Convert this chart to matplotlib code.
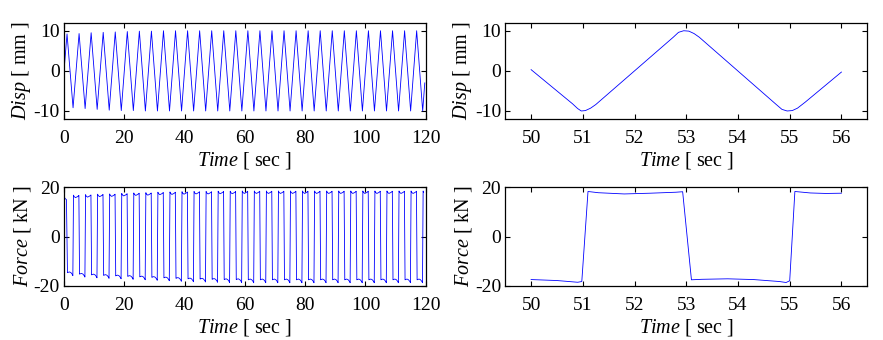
#!/usr/bin/env python3
"""
Ensayo ciclico: desplazamiento y fuerza frente al tiempo.
Izquierda: registro completo (0-120 s). Derecha: detalle 50-56 s.
"""

import matplotlib
matplotlib.use("Agg")
import matplotlib.pyplot as plt

# ---------------- datos ----------------

# Desplazamiento, registro completo: instantes de giro (s)
disp_turn_t = [0, 1, 3, 5, 7, 9, 11, 13, 15, 17, 19, 21, 23, 25, 27, 29, 31,
               33, 35, 37, 39, 41, 43, 45, 47, 49, 51, 53, 55, 57, 59, 61,
               63, 65, 67, 69, 71, 73, 75, 77, 79, 81, 83, 85, 87, 89, 91,
               93, 95, 97, 99, 101, 103, 105, 107, 109, 111, 113, 115, 117,
               119, 119.7]
# picos (t = 1, 5, 9 ...) y valles (t = 3, 7, 11 ...) en mm
disp_peaks = [9.2, 9.3, 9.5, 9.6, 9.7, 9.8, 9.9, 9.9, 10.0, 10.0,
              10.0, 10.0, 10.0, 10.0, 10.0, 10.0, 10.0, 10.0, 10.0, 10.0,
              10.0, 10.0, 10.0, 10.0, 10.0, 10.0, 10.0, 10.0, 10.0, 10.0]
disp_valleys = [-9.2, -9.4, -9.6, -9.8, -9.9, -9.9, -10.0, -10.0, -10.0, -10.0,
                -10.0, -10.0, -10.0, -10.0, -10.0, -10.0, -10.0, -10.0, -10.0, -10.0,
                -10.0, -10.0, -10.0, -10.0, -10.0, -10.0, -10.0, -10.0, -10.0, -10.0]
disp_start, disp_end = 0.0, -3.0

# Fuerza, registro completo: nivel de cada meseta (kN)
force_pos_levels = [15.5, 16.3, 16.5, 16.7, 16.8, 17.0, 17.2, 17.3, 17.5, 17.6,
                    17.7, 17.8, 17.8, 17.9, 17.9, 18.0, 18.0, 18.0, 18.0, 18.0,
                    18.0, 18.0, 18.0, 18.0, 18.0, 18.0, 18.0, 18.0, 18.0, 18.0, 18.0]
force_neg_levels = [15.0, 15.6, 15.9, 16.1, 16.3, 16.5, 16.7, 16.9, 17.1, 17.3,
                    17.5, 17.6, 17.7, 17.8, 17.8, 17.9, 17.9, 17.9, 17.9, 17.9,
                    17.9, 17.9, 17.9, 17.9, 17.9, 17.9, 17.9, 17.9, 17.9, 17.9]
plateau_dt = [0.15, 0.3, 0.8, 1.3, 1.8, 1.93]
plateau_off_pos = [0.5, 0.0, -0.5, -0.2, 0.2, 0.4]
plateau_off_neg = [-0.3, -0.4, -0.6, -0.3, 0.5, 0.9]

# Detalle 50-56 s
zoom_disp_t = [50.0, 50.80, 50.90, 50.97, 51.05, 51.15, 51.25,
               52.75, 52.85, 52.95, 53.05, 53.15, 53.25,
               54.75, 54.85, 54.95, 55.05, 55.15, 55.30, 56.0]
zoom_disp_v = [0.3, -8.2, -9.4, -10.0, -9.9, -9.3, -8.4,
               8.4, 9.6, 10.0, 9.9, 9.3, 8.4,
               -8.5, -9.6, -10.0, -9.9, -9.3, -7.8, -0.3]

zoom_force_t = [50.0, 50.5, 50.9, 50.98, 51.1, 51.3, 51.8, 52.3, 52.8, 52.93,
                53.1, 53.3, 53.8, 54.3, 54.8, 54.93, 55.0, 55.1, 55.4, 55.7, 56.0]
zoom_force_v = [-17.5, -17.9, -18.6, -18.3, 18.3, 17.8, 17.3, 17.6, 18.0, 18.2,
                -17.6, -17.4, -17.2, -17.5, -18.3, -18.7, -18.0, 18.3, 17.7, 17.5, 17.6]


def build_disp():
    v = [disp_start]
    for p, q in zip(disp_peaks, disp_valleys):
        v += [p, q]
    v.append(disp_end)
    return disp_turn_t, v


def build_force():
    # cambios de signo en los giros del desplazamiento
    edges = disp_turn_t
    t, f = [0.0], [0.0]
    ip, ineg = 0, 0
    for i in range(len(edges) - 1):
        ts, te = edges[i], edges[i + 1]
        if i % 2 == 0:
            lev, offs, sgn = force_pos_levels[ip], plateau_off_pos, 1
            ip += 1
        else:
            lev, offs, sgn = force_neg_levels[ineg], plateau_off_neg, -1
            ineg += 1
        for dt, off in zip(plateau_dt, offs):
            if ts + dt < te:
                t.append(ts + dt)
                f.append(sgn * (lev + off))
    return t, f


def style_axes(ax, xlim, xticks, ylim, yticks, ylabel):
    ax.set_xlim(*xlim)
    ax.set_ylim(*ylim)
    ax.set_xticks(xticks)
    ax.set_yticks(yticks)
    ax.tick_params(direction="in", top=True, right=True, length=3.5, width=0.8,
                   labelsize=14)
    ax.tick_params(axis="x", pad=8)
    ax.tick_params(axis="y", pad=3)
    for s in ax.spines.values():
        s.set_linewidth(0.9)
    ax.set_xlabel(r"$\mathit{Time}$ [ sec ]", fontsize=14.5, labelpad=2)
    ax.set_ylabel(ylabel, fontsize=14.5, labelpad=0.5)


def main():
    plt.rcParams["font.family"] = ["Liberation Serif", "DejaVu Serif"]
    plt.rcParams["mathtext.fontset"] = "custom"
    plt.rcParams["mathtext.rm"] = "Liberation Serif"
    plt.rcParams["mathtext.it"] = "Liberation Serif:italic"
    plt.rcParams["axes.unicode_minus"] = False

    fig = plt.figure(figsize=(8.83, 3.40), dpi=100)
    ax1 = fig.add_axes([0.0725, 0.650, 0.4096, 0.2832])
    ax2 = fig.add_axes([0.5722, 0.650, 0.4100, 0.2832])
    ax3 = fig.add_axes([0.0725, 0.1597, 0.4096, 0.2894])
    ax4 = fig.add_axes([0.5722, 0.1597, 0.4100, 0.2894])

    dt, dv = build_disp()
    ft, fv = build_force()

    lw = 0.6
    ax1.plot(dt, dv, color="blue", lw=lw)
    ax2.plot(zoom_disp_t, zoom_disp_v, color="blue", lw=lw)
    ax3.plot(ft, fv, color="blue", lw=lw)
    ax4.plot(zoom_force_t, zoom_force_v, color="blue", lw=lw)

    disp_lab = r"$\mathit{Disp}$ [ mm ]"
    force_lab = r"$\mathit{Force}$ [ kN ]"
    style_axes(ax1, (0, 120), range(0, 121, 20), (-12, 12), [-10, 0, 10], disp_lab)
    style_axes(ax2, (49.5, 56.5), range(50, 57), (-12, 12), [-10, 0, 10], disp_lab)
    style_axes(ax3, (0, 120), range(0, 121, 20), (-20, 20), [-20, 0, 20], force_lab)
    style_axes(ax4, (49.5, 56.5), range(50, 57), (-20, 20), [-20, 0, 20], force_lab)

    fig.savefig("out.png", dpi=100)


if __name__ == "__main__":
    main()
